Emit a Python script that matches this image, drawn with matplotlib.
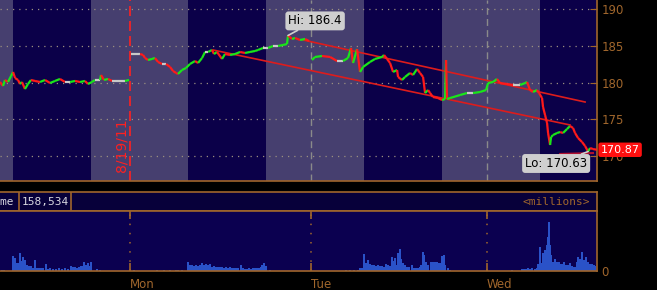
import matplotlib
matplotlib.use('Agg')
import matplotlib.pyplot as plt
import matplotlib.transforms as mtransforms
from matplotlib.collections import LineCollection

# time axis: hours since Monday 04:00 (Friday part is negative)
price_t = [-11.66, -11.39, -11.21, -10.94, -10.67, -10.49, -10.31, -10.04, -9.87, -9.69,
           -9.42, -9.15, -8.88, -8.52, -8.07, -7.62, -7.17, -6.73, -6.28, -5.83,
           -5.38, -4.93, -4.48, -4.04, -3.77, -3.41, -3.14, -2.69, -2.60, -2.33,
           -1.97, -1.61, -0.90, -0.45, -0.09,
           0.09, 0.90, 1.17, 1.35, 1.61, 1.97, 2.24, 2.51, 2.87, 3.23,
           3.59, 3.86, 4.13, 4.30, 4.66, 5.02, 5.38, 5.83, 6.10, 6.46,
           6.73, 7.00, 7.35, 7.53, 7.80, 8.25, 8.52, 8.97, 9.42, 9.87,
           10.31, 10.76, 11.21, 11.48, 11.93, 12.38, 12.83, 13.27, 13.72, 14.08,
           14.17, 14.53, 14.80, 15.25, 15.70, 16.05,
           16.32, 16.59, 17.22, 17.94, 18.57, 19.10, 19.55, 19.82, 20.00, 20.36,
           20.63, 20.90, 21.52, 21.97, 22.60, 22.78, 23.05, 23.32, 23.59, 23.95,
           24.04, 24.39, 24.66, 25.11, 25.38, 25.74, 26.01, 26.28, 26.46, 26.73,
           26.91, 27.17, 27.62, 27.98, 28.25, 28.34, 28.43, 28.70, 29.60, 30.22,
           30.76, 31.39, 31.93,
           32.11, 32.56, 32.91, 33.18, 33.81, 34.35, 34.98, 35.43, 35.61, 35.87,
           36.14, 36.50, 36.68, 36.95, 37.04, 37.22, 37.40, 37.49, 37.67, 37.76,
           37.94, 38.30, 38.57, 38.83, 39.19, 39.46, 39.73, 39.91, 40.18, 40.54,
           40.81, 41.08, 41.26, 41.52, 41.88]
price_p = [180.08, 179.54, 180.35, 180.08, 180.89, 181.44, 180.62, 180.35, 179.81, 180.08,
           179.13, 179.81, 180.35, 180.22, 180.08, 180.35, 179.94, 180.22, 180.49, 180.08,
           180.08, 180.22, 180.08, 180.22, 179.81, 180.08, 180.35, 180.35, 181.03, 180.35,
           180.49, 180.22, 180.22, 180.22, 180.35,
           183.88, 183.88, 183.75, 183.34, 183.07, 183.21, 183.34, 182.80, 182.53, 182.53,
           182.12, 181.57, 181.30, 181.17, 181.71, 181.98, 182.53, 182.93, 182.66, 183.34,
           184.16, 184.16, 184.43, 183.88, 184.16, 183.21, 183.88, 183.75, 183.88, 184.16,
           184.02, 184.16, 184.29, 184.43, 184.70, 184.70, 184.97, 184.97, 185.11, 185.24,
           186.40, 185.92, 186.06, 185.79, 185.92, 185.65,
           183.07, 183.48, 183.61, 183.48, 182.93, 182.93, 183.34, 184.70, 182.66, 184.56,
           181.44, 182.12, 182.80, 183.21, 183.48, 183.75, 183.21, 182.66, 181.44, 181.71,
           180.76, 180.35, 180.76, 181.30, 181.03, 181.85, 181.30, 180.76, 178.58, 178.99,
           178.58, 178.04, 177.90, 177.63, 177.77, 183.07, 177.77, 177.90, 178.31, 178.58,
           178.58, 178.72, 178.99,
           179.94, 180.08, 180.49, 179.94, 179.81, 179.67, 179.67, 179.94, 180.08, 178.99,
           178.72, 178.99, 178.58, 177.90, 176.68, 175.59, 174.51, 173.15, 171.52, 172.60,
           172.88, 173.15, 173.28, 173.15, 173.69, 174.10, 173.83, 173.15, 172.47, 171.92,
           171.38, 170.63, 171.11, 170.97, 170.87]

vol_t = [-11.5, -11.3, -10.49, -10.31, -10.13, -9.96, -9.87, -9.78, -9.60, -9.42,
         -9.24, -9.06, -8.88, -8.70, -8.52, -8.34, -8.16, -7.98, -7.80, -7.53,
         -7.35, -7.17, -6.91, -6.64, -6.37, -6.10, -5.83, -5.56, -5.29, -5.11,
         -4.93, -4.75, -4.57, -4.39, -4.22, -4.13, -3.95, -3.77, -3.59, -3.50,
         -2.96, -2.69,
         0.36, 2.42, 3.05, 3.59, 4.13, 4.30, 4.66, 5.20, 5.38, 5.56,
         5.74, 5.92, 6.10, 6.28, 6.46, 6.64, 6.82, 7.00, 7.17, 7.35,
         7.53, 7.71, 7.89, 8.07, 8.25, 8.43, 8.61, 8.79, 8.97, 9.15,
         9.33, 9.51, 9.69, 9.96, 10.13, 10.31, 10.49, 10.67, 10.85, 11.03,
         11.21, 11.39, 11.57, 11.75, 11.84, 12.02, 12.20, 12.56,
         19.37, 19.73, 20.09, 20.45, 20.63, 20.81, 20.99, 21.17, 21.35, 21.52,
         21.70, 21.88, 22.06, 22.24, 22.42, 22.60, 22.78, 22.96, 23.14, 23.32,
         23.50, 23.59, 23.77, 23.86, 24.04, 24.22, 24.30, 24.48, 24.66, 24.84,
         25.02, 25.29, 25.47, 25.65, 25.83, 26.01, 26.10, 26.28, 26.37, 26.55,
         26.73, 27.00, 27.17, 27.35, 27.53, 27.71, 27.89, 27.98, 28.16, 28.25,
         28.52, 28.70,
         34.26, 35.16, 35.34, 35.52, 35.70, 35.87, 36.05, 36.32, 36.50, 36.59,
         36.77, 36.86, 37.04, 37.22, 37.40, 37.49, 37.58, 37.67, 37.76, 37.94,
         38.12, 38.30, 38.48, 38.65, 38.83, 38.92, 39.10, 39.28, 39.46, 39.64,
         39.82, 39.91, 40.09, 40.18, 40.36, 40.54, 40.72, 40.90, 41.08, 41.26,
         41.43, 41.61, 41.70]
vol_m = [0.15, 0.15, 1.47, 1.30, 0.80, 0.80, 1.80, 1.00, 1.37, 1.10,
         0.60, 0.47, 0.47, 0.30, 1.10, 0.30, 0.33, 0.30, 0.30, 0.70,
         0.25, 0.30, 0.25, 0.25, 0.30, 0.25, 0.30, 0.25, 0.53, 0.40,
         0.37, 0.30, 0.37, 0.47, 0.47, 0.90, 0.60, 0.77, 0.50, 0.90,
         0.20, 0.10,
         0.10, 0.10, 0.10, 0.10, 0.13, 0.13, 0.10, 0.90, 0.57, 0.57,
         0.50, 0.63, 0.50, 0.63, 0.80, 0.60, 0.70, 0.57, 0.70, 0.43,
         0.50, 0.43, 0.43, 0.37, 0.37, 0.33, 0.37, 0.33, 0.37, 0.30,
         0.30, 0.30, 0.27, 0.63, 0.30, 0.23, 0.23, 0.27, 0.23, 0.27,
         0.30, 0.30, 0.33, 0.40, 0.57, 0.80, 0.47, 0.10,
         0.10, 0.10, 0.10, 0.10, 0.30, 0.30, 1.73, 0.80, 1.13, 0.70,
         0.57, 0.57, 0.50, 0.57, 0.47, 0.47, 0.43, 0.70, 0.60, 0.50,
         1.37, 1.03, 1.30, 0.63, 1.80, 2.23, 1.23, 0.80, 0.57, 0.43,
         0.43, 0.63, 0.33, 0.33, 0.33, 0.37, 0.57, 1.90, 1.57, 0.90,
         0.63, 0.90, 0.90, 0.93, 0.90, 0.77, 0.77, 1.47, 1.63, 0.57,
         0.30, 0.10,
         0.10, 0.17, 0.17, 0.17, 0.30, 0.17, 0.30, 0.17, 0.30, 0.70,
         2.37, 0.80, 1.80, 2.13, 2.63, 3.37, 4.90, 2.63, 1.63, 0.90,
         1.23, 0.90, 0.90, 0.70, 0.70, 0.90, 0.63, 0.63, 0.80, 0.50,
         0.40, 0.37, 0.90, 1.40, 1.23, 1.90, 1.13, 1.37, 0.90, 0.70,
         0.70, 0.60, 0.47]

day_starts = [0.0, 16.2, 32.0]
day_names = ['Mon', 'Tue', 'Wed']
rth_open = [-10.5, 5.2, 21.0, 36.8]
rth_close = [-3.5, 12.2, 28.0, 44.0]

# channel lines drawn on the chart
up_t, up_p = [15.52, 40.81], [185.79, 177.36]
low_t, low_p = [7.44, 39.46], [184.43, 174.24]
sup_t, sup_p = [38.57, 41.52], [170.30, 170.43]

hi_t, hi_p = 14.17, 186.4
lo_t, lo_p = 41.08, 170.63
last_p = 170.87
vol_total = '158,534'

brown = '#a0662c'
light_bg = '#463f6f'
dark_bg = '#0b0049'

fig = plt.figure(figsize=(6.57, 2.90), dpi=100, facecolor='black')

ax = fig.add_axes([0, 0.3759, 0.9087, 0.6241], facecolor=light_bg)
ax.set_xlim(-11.66, 41.88)
ax.set_ylim(166.63, 191.22)
for o, c in zip(rth_open, rth_close):
    ax.axvspan(o, c, color=dark_bg, lw=0, zorder=0)
for y in range(170, 191, 5):
    ax.axhline(y, color='#9a8f80', lw=0.9, ls=(0, (1, 4)), zorder=1)
for d in day_starts[1:]:
    ax.axvline(d, color='#8a8a8a', lw=1, ls=(0, (5, 3)), zorder=1)
ax.axvline(day_starts[0], color='#ff2020', lw=1.2, ls=(0, (6, 3)), zorder=1)
ax.text(-0.15, 0.2, '8/19/11', transform=mtransforms.blended_transform_factory(ax.transData, ax.transAxes),
        rotation=90, ha='right', va='center', color='#ff2020', fontsize=10)

# bar-to-bar segments, green when up and red when down; no joins across the overnight breaks
segs, cols = [], []
for i in range(len(price_t) - 1):
    if any(price_t[i] < d < price_t[i + 1] for d in day_starts[:2]):
        continue
    segs.append([(price_t[i], price_p[i]), (price_t[i + 1], price_p[i + 1])])
    d = price_p[i + 1] - price_p[i]
    cols.append('#19e619' if d > 0 else ('#ff1a1a' if d < 0 else '#c8c8c8'))
ax.add_collection(LineCollection(segs, colors=cols, linewidths=1.6, zorder=3))

ax.plot(up_t, up_p, color='#dd1c1c', lw=1.2, zorder=2)
ax.plot(low_t, low_p, color='#dd1c1c', lw=1.2, zorder=2)
ax.plot(sup_t, sup_p, color='#b01030', lw=1.5, zorder=2)

ax.annotate('Hi: %.1f' % hi_p, xy=(hi_t, hi_p), xytext=(19.5, 10.5), textcoords='offset points',
            ha='center', va='center', fontsize=8.5, color='black',
            bbox=dict(boxstyle='round,pad=0.25', fc='#cfcfcf', ec='none'),
            arrowprops=dict(arrowstyle='-', color='#cfcfcf', lw=1.2, shrinkA=0, shrinkB=0), zorder=5)
ax.annotate('Lo: %.2f' % lo_p, xy=(lo_t, lo_p), xytext=(-23, -8.6), textcoords='offset points',
            ha='center', va='center', fontsize=8.5, color='black',
            bbox=dict(boxstyle='round,pad=0.25', fc='#cfcfcf', ec='none'),
            arrowprops=dict(arrowstyle='-', color='#cfcfcf', lw=1.2, shrinkA=0, shrinkB=0), zorder=5)
ax.text(1.006, last_p, '%.2f' % last_p, transform=mtransforms.blended_transform_factory(ax.transAxes, ax.transData),
        ha='left', va='center', fontsize=8, color='white', clip_on=False,
        bbox=dict(boxstyle='round,pad=0.2', fc='#ff1010', ec='none'), zorder=6)

ax.set_yticks(range(170, 191, 5))
ax.yaxis.tick_right()
ax.tick_params(axis='y', direction='in', length=5, color=brown, labelcolor=brown, labelsize=8.5, pad=3)
ax.set_xticks([])
for s in ['top', 'left']:
    ax.spines[s].set_visible(False)
for s in ['right', 'bottom']:
    ax.spines[s].set_color(brown)
    ax.spines[s].set_linewidth(1.2)

# volume header strip
hdr = fig.add_axes([0, 0.2724, 0.9087, 0.0655], facecolor='#07003a')
hdr.set_xlim(0, 1)
hdr.set_ylim(0, 1)
hdr.set_xticks([])
hdr.set_yticks([])
for s in hdr.spines.values():
    s.set_color(brown)
    s.set_linewidth(1.2)
hdr.spines['left'].set_visible(False)
hdr.axvline(0.0318, color=brown, lw=1.2)
hdr.axvline(0.119, color=brown, lw=1.2)
hdr.text(0.024, 0.5, 'Volume', ha='right', va='center', color='#d8d8e0', fontsize=8, family='DejaVu Sans Mono')
hdr.text(0.0369, 0.5, vol_total, ha='left', va='center', color='#d8d8e0', fontsize=8, family='DejaVu Sans Mono')
hdr.text(0.988, 0.5, '<millions>', ha='right', va='center', color=brown, fontsize=8, family='DejaVu Sans Mono')

# volume panel
vax = fig.add_axes([0, 0.0655, 0.9087, 0.2069], facecolor='#0b0050')
vax.set_xlim(-11.66, 41.88)
vax.set_ylim(0, 6.0)
vax.bar(vol_t, vol_m, width=0.16, color='#2a52c8', linewidth=0, zorder=2)
for d in day_starts:
    vax.axvline(d, color=brown, lw=1.1, ls=(0, (1, 5)), zorder=1)
vax.set_xticks(day_starts)
vax.set_xticklabels(day_names)
for lab in vax.get_xticklabels():
    lab.set_ha('left')
vax.tick_params(axis='x', direction='in', length=6, width=1.2, color=brown, labelcolor=brown,
                labelsize=8.5, top=True, pad=5)
vax.set_yticks([0])
vax.yaxis.tick_right()
vax.tick_params(axis='y', length=0, labelcolor=brown, labelsize=8.5, pad=3)
vax.spines['left'].set_visible(False)
for s in ['right', 'bottom', 'top']:
    vax.spines[s].set_color(brown)
    vax.spines[s].set_linewidth(1.2)

fig.savefig('out.png', dpi=100, facecolor='black')
